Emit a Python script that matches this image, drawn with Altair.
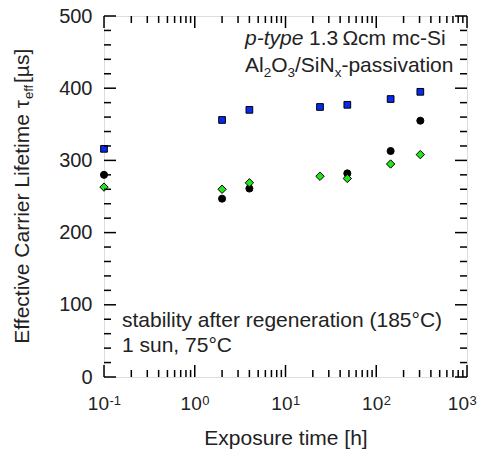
import altair as alt
import pandas as pd

# ---- data ----
hours = [0.1, 2, 4, 24, 48, 144, 306]
tau_blue = [316, 356, 370, 374, 377, 385, 395]
hours_black = [0.1, 2, 4, 48, 144, 306]
tau_black = [280, 247, 261, 282, 313, 355]
tau_green = [263, 260, 269, 278, 275, 295, 308]

x_major = [0.1, 1, 10, 100, 1000]
x_exp = ["-1", "0", "1", "2", "3"]
x_minor = [m * d for d in [0.1, 1, 10, 100] for m in range(2, 10)]
y_major = [0, 100, 200, 300, 400, 500]
y_minor = [v for v in range(0, 501, 20) if v % 100 != 0]

x_title = "Exposure time [h]"
y_title_main = "Effective Carrier Lifetime τ"
y_title_sub = "eff"
y_title_unit = " [µs]"
note_italic = "p-type"
note_rest = "1.3\u2009Ωcm mc-Si"
note_line2 = [("Al", 21, 0), ("2", 13.5, 5), ("O", 21, 0), ("3", 13.5, 5),
              ("/SiN", 21, 0), ("x", 13.5, 5), ("-passivation", 21, 0)]
note_low1 = "stability after regeneration (185°C)"
note_low2 = "1 sun, 75°C"

W, H = 363, 361
FONT = "Liberation Sans"
TXT = "#222"

xs = alt.Scale(type="log", domain=[0.1, 1000])
ys = alt.Scale(domain=[0, 500], nice=False)

x_axis = alt.Axis(values=x_major, labels=False, ticks=False, domain=False, grid=False,
                  title=x_title, titleFontSize=21, titleFontWeight="normal",
                  titleFont=FONT, titleColor=TXT, titleY=67, titleBaseline="alphabetic")
y_axis = alt.Axis(values=y_major, ticks=False, domain=False, grid=False,
                  labelFontSize=20, labelPadding=12, labelColor=TXT, labelFont=FONT,
                  title=None)

df_blue = pd.DataFrame({"h": hours, "tau": tau_blue})
df_black = pd.DataFrame({"h": hours_black, "tau": tau_black})
df_green = pd.DataFrame({"h": hours, "tau": tau_green})


def pts(df, shape, fill, size):
    return alt.Chart(df).mark_point(shape=shape, filled=True, fill=fill, stroke="black",
                                    strokeWidth=1, size=size, opacity=1).encode(
        x=alt.X("h:Q", scale=xs, axis=x_axis, title=x_title),
        y=alt.Y("tau:Q", scale=ys, axis=y_axis, title=None))


blue = pts(df_blue, "square", "#0a28f0", 45)
black = pts(df_black, "circle", "black", 50)
green = pts(df_green, "diamond", "#22e51a", 70)


def xticks(vals, length, top):
    d = pd.DataFrame({"h": vals})
    if top:
        yy, yy2 = alt.value(0), alt.value(length)
    else:
        yy, yy2 = alt.value(H), alt.value(H - length)
    return alt.Chart(d).mark_rule(color="black", strokeWidth=1.5).encode(
        x=alt.X("h:Q", scale=xs, axis=x_axis, title=x_title), y=yy, y2=yy2)


def yticks(vals, length, right):
    d = pd.DataFrame({"tau": vals})
    if right:
        xx, xx2 = alt.value(W), alt.value(W - length)
    else:
        xx, xx2 = alt.value(0), alt.value(length)
    return alt.Chart(d).mark_rule(color="black", strokeWidth=1.5).encode(
        y=alt.Y("tau:Q", scale=ys, axis=y_axis, title=None), x=xx, x2=xx2)


ticks = [xticks(x_major, 12, False), xticks(x_minor, 7, False),
         xticks(x_major, 12, True), xticks(x_minor, 7, True),
         yticks(y_major, 12, False), yticks(y_minor, 7, False),
         yticks(y_major, 12, True), yticks(y_minor, 7, True)]

# x tick labels: "10" with a raised exponent
lab_df = pd.DataFrame({"h": x_major, "e": x_exp})


def xlabels(df, shift):
    base = alt.Chart(df).mark_text(align="right", baseline="alphabetic", fontSize=19,
                                   font=FONT, color=TXT, dx=shift).encode(
        x=alt.X("h:Q", scale=xs, axis=x_axis, title=x_title),
        y=alt.value(H + 33), text=alt.value("10"))
    sup = alt.Chart(df).mark_text(align="left", baseline="alphabetic", fontSize=13,
                                  font=FONT, color=TXT, dx=shift + 0.5).encode(
        x=alt.X("h:Q", scale=xs, axis=x_axis, title=x_title),
        y=alt.value(H + 28), text="e:N")
    return [base, sup]


xlabs = (xlabels(lab_df.iloc[:1], 5) + xlabels(lab_df.iloc[1:4], 7)
         + xlabels(lab_df.iloc[4:], 2))

one = pd.DataFrame({"a": [0]})


def label(txt, x, y, size=21, align="left", angle=0, style="normal"):
    return alt.Chart(one).mark_text(align=align, baseline="alphabetic", fontSize=size,
                                    font=FONT, color=TXT, angle=angle,
                                    fontStyle=style).encode(
        x=alt.value(x), y=alt.value(y), text=alt.value(txt))


texts = [
    label(y_title_main, -75, 84, size=21, align="right", angle=270),
    label(y_title_sub, -71, 83, size=13, align="left", angle=270),
    label(y_title_unit, -75, 67, size=21, align="left", angle=270),
    label(note_italic, 141, 29, style="italic"),
    label(note_rest, 205, 29),
    label(note_low1, 18, 311),
    label(note_low2, 18, 336),
]

# composed line with subscripts (widths from Arial/Liberation metrics)
widths = {"Al": 0.889, "2": 0.556, "O": 0.778, "3": 0.556, "/SiN": 1.889,
          "x": 0.5, "-passivation": 5.557}
xpos = 141.0
for piece, size, drop in note_line2:
    texts.append(label(piece, round(xpos, 1), 56 + drop, size=size))
    xpos += widths[piece] * size

chart = alt.layer(blue, black, green, *ticks, *xlabs, *texts).properties(
    width=W, height=H,
    autosize=alt.AutoSizeParams(type="none"),
    padding={"left": 96, "top": 8, "right": 10, "bottom": 72},
).configure_view(stroke="black", strokeWidth=1.5).configure(background="white")

chart.save("out.html", embed_options={"renderer": "svg", "actions": False})
